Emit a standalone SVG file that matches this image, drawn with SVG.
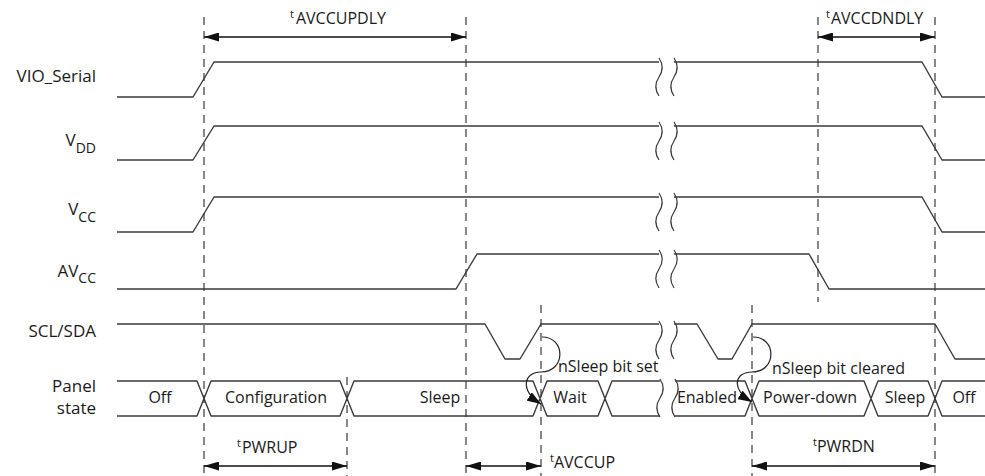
<svg xmlns="http://www.w3.org/2000/svg" width="985" height="476" viewBox="0 0 985 476">
<style>
.sig{fill:none;stroke:#3a3a3a;stroke-width:1.4;stroke-linejoin:round}
.brk{fill:none;stroke:#3a3a3a;stroke-width:1.2}
.dash{fill:none;stroke:#555;stroke-width:1.4;stroke-dasharray:8 6}
.dim{fill:none;stroke:#111;stroke-width:1.3}
.cur{fill:none;stroke:#222;stroke-width:1.2}
text{font-family:"Open Sans","Noto Sans","DejaVu Sans",sans-serif;font-size:16px;fill:#1a1a1a}
.lbl{text-anchor:end;font-size:17px}
.st{text-anchor:middle}
</style>
<defs>
<marker id="ah" viewBox="0 0 15 9" refX="15" refY="4.5" markerWidth="15" markerHeight="9" orient="auto-start-reverse" markerUnits="userSpaceOnUse"><path d="M0,0 L15,4.5 L0,9 z" fill="#111"/></marker>
<marker id="ah2" viewBox="0 0 14 10" refX="14" refY="5" markerWidth="14" markerHeight="10" orient="auto" markerUnits="userSpaceOnUse"><path d="M0,0 L14,5 L0,10 z" fill="#111"/></marker>
<path id="bk" d="M0,0 C4,6 4,13 0,19 C-4,25 -4,32 0,38"/>
</defs>

<g id="guides">
<line class="dash" x1="204" y1="17" x2="204" y2="476"/>
<line class="dash" x1="466" y1="17" x2="466" y2="476"/>
<line class="dash" x1="818" y1="17" x2="818" y2="302"/>
<line class="dash" x1="935" y1="17" x2="935" y2="476"/>
<line class="dash" x1="347" y1="377" x2="347" y2="476"/>
<line class="dash" x1="541" y1="305" x2="541" y2="476"/>
<line class="dash" x1="752" y1="305" x2="752" y2="476"/>
</g>

<g id="vio_serial">
<text class="lbl" x="96" y="82">VIO_Serial</text>
<path class="sig" d="M117,97 H193 L214,62 H659 M674,62 H922 L942,97 H985"/>
<use class="brk" href="#bk" x="659" y="58"/>
<use class="brk" href="#bk" x="674" y="58"/>
</g>

<g id="vdd">
<text class="lbl" x="96" y="146">V<tspan font-size="14" dy="7">DD</tspan></text>
<path class="sig" d="M117,160 H193 L214,126 H659 M674,126 H922 L942,160 H985"/>
<use class="brk" href="#bk" x="659" y="122"/>
<use class="brk" href="#bk" x="674" y="122"/>
</g>

<g id="vcc">
<text class="lbl" x="96" y="215">V<tspan font-size="14" dy="7">CC</tspan></text>
<path class="sig" d="M117,232 H193 L214,197 H659 M674,197 H922 L942,232 H985"/>
<use class="brk" href="#bk" x="659" y="193"/>
<use class="brk" href="#bk" x="674" y="193"/>
</g>

<g id="avcc">
<text class="lbl" x="96" y="277">AV<tspan font-size="14" dy="6">CC</tspan></text>
<path class="sig" d="M117,289 H456 L477,254 H659 M674,254 H809 L829,289 H985"/>
<use class="brk" href="#bk" x="659" y="250"/>
<use class="brk" href="#bk" x="674" y="250"/>
</g>

<g id="scl_sda">
<text class="lbl" x="96" y="337">SCL/SDA</text>
<path class="sig" d="M117,324 H485 L505,359 H520 L541,324 H659 M674,324 H697 L718,359 H732 L752,324 H935 L955,359 H985"/>
<use class="brk" href="#bk" x="659" y="321"/>
<use class="brk" href="#bk" x="674" y="321"/>
</g>

<g id="panel_state">
<text class="lbl" x="96" y="392">Panel</text>
<text class="lbl" x="96" y="414">state</text>
<path class="sig" d="M117,381 H197 L211,416 H340 L354,381 H533 L547,416 H598 L612,381 H660 M117,416 H197 L211,381 H340 L354,416 H533 L547,381 H598 L612,416 H660"/>
<path class="sig" d="M675,381 H745 L759,416 H864 L878,381 H928 L942,416 H985 M675,416 H745 L759,381 H864 L878,416 H928 L942,381 H985"/>
<use class="brk" href="#bk" x="660" y="379"/>
<use class="brk" href="#bk" x="675" y="379"/>
<text class="st" x="160" y="403">Off</text>
<text class="st" x="276" y="403">Configuration</text>
<text class="st" x="440" y="403">Sleep</text>
<text class="st" x="570" y="403">Wait</text>
<text class="st" x="707" y="403">Enabled</text>
<text class="st" x="810" y="403">Power-down</text>
<text class="st" x="905" y="403">Sleep</text>
<text class="st" x="964" y="403">Off</text>
</g>

<g id="connectors">
<line class="dim" x1="204" y1="37" x2="466" y2="37" marker-start="url(#ah)" marker-end="url(#ah)"/>
<line class="dim" x1="818" y1="37" x2="935" y2="37" marker-start="url(#ah)" marker-end="url(#ah)"/>
<line class="dim" x1="204" y1="466" x2="347" y2="466" marker-start="url(#ah)" marker-end="url(#ah)"/>
<line class="dim" x1="466" y1="466" x2="541" y2="466" marker-start="url(#ah)" marker-end="url(#ah)"/>
<line class="dim" x1="752" y1="466" x2="935" y2="466" marker-start="url(#ah)" marker-end="url(#ah)"/>
<path class="cur" d="M542,337 C566,337 566,372 541,372 C524,372 519,390 541,404" marker-end="url(#ah2)"/>
<path class="cur" d="M753,337 C777,337 777,372 752,372 C735,372 730,389 752,402" marker-end="url(#ah2)"/>
</g>

<g id="labels">
<text x="290" y="24"><tspan font-size="11" dy="-6">t</tspan><tspan dx="2" dy="6">AVCCUPDLY</tspan></text>
<text x="826" y="24"><tspan font-size="11" dy="-6">t</tspan><tspan dx="1" dy="6">AVCCDNDLY</tspan></text>
<text x="237" y="453"><tspan font-size="11" dy="-6">t</tspan><tspan dx="1" dy="6">PWRUP</tspan></text>
<text x="550" y="468"><tspan font-size="11" dy="-6">t</tspan><tspan dx="0" dy="6">AVCCUP</tspan></text>
<text x="813" y="452"><tspan font-size="11" dy="-6">t</tspan><tspan dx="0" dy="6">PWRDN</tspan></text>
<text x="558" y="372">nSleep bit set</text>
<text x="772" y="374">nSleep bit cleared</text>
</g>
</svg>
